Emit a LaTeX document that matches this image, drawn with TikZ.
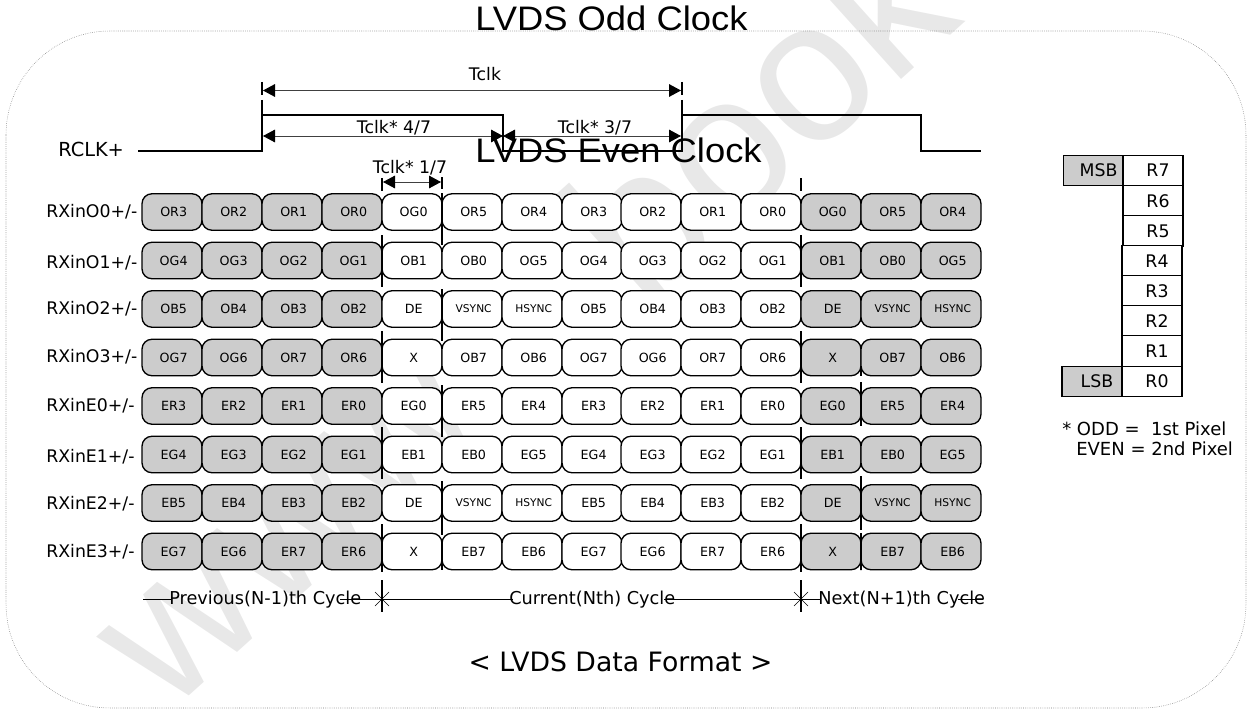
\documentclass[tikz,border=0pt]{standalone}
\usepackage{fontspec}
\setmainfont{DejaVu Sans}
\newfontfamily\titlefont{Liberation Sans}
\usetikzlibrary{arrows.meta,shapes.misc}
\tikzset{
  cellbase/.style={draw,line width=1pt,rounded corners=7.5pt,minimum width=45pt,minimum height=27.4pt,inner sep=0pt,outer sep=0pt,font=\fontsize{9.5}{11}\selectfont,execute at begin node=\hspace{2.5pt}},
  cellwhite/.style={cellbase,fill=white},
  cellgray/.style={cellbase,fill=black!20},
  syncwhite/.style={cellwhite,font=\fontsize{8}{10}\selectfont},
  syncgray/.style={cellgray,font=\fontsize{8}{10}\selectfont},
  rowlabel/.style={anchor=west,inner sep=0pt,font=\fontsize{13}{16}\selectfont},
  timelabel/.style={inner sep=0pt,font=\fontsize{13}{15}\selectfont},
  cyclelabel/.style={anchor=west,inner sep=0pt,font=\fontsize{13.3}{16}\selectfont},
  titlelabel/.style={anchor=base west,inner sep=0pt,font=\titlefont\fontsize{25.5}{30}\selectfont},
  notelabel/.style={anchor=west,inner sep=0pt,font=\fontsize{13.5}{16}\selectfont},
  bitbox/.style={draw,line width=0.8pt,fill=white,minimum width=45pt,minimum height=22.6pt,inner sep=0pt,outer sep=0pt,font=\fontsize{13}{15}\selectfont,execute at begin node=\hspace{7.5pt}},
  sidebox/.style={bitbox,fill=black!20},
  wave/.style={line width=0.8pt},
  span/.style={line width=0.7pt,black!75,{Triangle[length=9pt,width=9.5pt,black]}-{Triangle[length=9pt,width=9.5pt,black]}},
  edgemark/.style={line width=2pt},
  cycleline/.style={line width=0.7pt},
  cross/.style={cross out,draw,line width=0.5pt,minimum size=10pt,inner sep=0pt},
  watermark/.style={black!9,inner sep=0pt,rotate=42,font=\titlefont\fontsize{150}{150}\selectfont}
}
\begin{document}
\begin{tikzpicture}[x=0.75pt,y=0.75pt,yscale=-1,xscale=1]
\useasboundingbox (0,0) rectangle (1247,710);
\clip (0,0) rectangle (1247,710);

% Watermark
\draw (310,516) node (markwww) [watermark] {www.};
\draw (757,113) node (markbook) [watermark] {book};

% Frame
\draw [black!55,line width=0.4pt,densely dotted,rounded corners=78pt] (6,31) rectangle (1246,708);

% Clock edges
\coordinate (wave0) at (138,151);
\coordinate (wave1) at (262,151);
\coordinate (wave2) at (262,115);
\coordinate (wave3) at (503,115);
\coordinate (wave4) at (503,151);
\coordinate (wave5) at (682,151);
\coordinate (wave6) at (682,115);
\coordinate (wave7) at (921,115);
\coordinate (wave8) at (921,151);
\coordinate (wave9) at (981,151);
\draw [wave] (wave0) -- (wave1) -- (wave2) -- (wave3) -- (wave4) -- (wave5) -- (wave6) -- (wave7) -- (wave8) -- (wave9);

% Edge marks
\coordinate (markA0) at (262,82);
\coordinate (markA1) at (262,151);
\coordinate (markB0) at (682,82);
\coordinate (markB1) at (682,135);
\draw [edgemark,dash pattern=on 9.75pt off 3.75pt on 13.5pt off 1.5pt on 23.25pt off 0pt] (markA0) -- (markA1);
\draw [edgemark,dash pattern=on 9.75pt off 3.75pt on 15pt off 1.5pt on 9.75pt off 0pt] (markB0) -- (markB1);

% Spans
\coordinate (spanA0) at (263,90.5);
\coordinate (spanA1) at (681,90.5);
\coordinate (spanB0) at (263,136);
\coordinate (spanB1) at (503,136);
\coordinate (spanC0) at (503,136);
\coordinate (spanC1) at (681,136);
\coordinate (spanD0) at (383,182);
\coordinate (spanD1) at (441,182);
\draw [span] (spanA0) -- (spanA1);
\draw [span] (spanB0) -- (spanB1);
\draw [span] (spanC0) -- (spanC1);
\draw [span] (spanD0) -- (spanD1);

% Cells RXinO0
\draw (172,212) node (o0c1) [cellgray] {OR3};
\draw (232,212) node (o0c2) [cellgray] {OR2};
\draw (292,212) node (o0c3) [cellgray] {OR1};
\draw (352,212) node (o0c4) [cellgray] {OR0};
\draw (412,212) node (o0c5) [cellwhite] {OG0};
\draw (472,212) node (o0c6) [cellwhite] {OR5};
\draw (532,212) node (o0c7) [cellwhite] {OR4};
\draw (592,212) node (o0c8) [cellwhite] {OR3};
\draw (651,212) node (o0c9) [cellwhite] {OR2};
\draw (711,212) node (o0c10) [cellwhite] {OR1};
\draw (771,212) node (o0c11) [cellwhite] {OR0};
\draw (831,212) node (o0c12) [cellgray] {OG0};
\draw (891,212) node (o0c13) [cellgray] {OR5};
\draw (951,212) node (o0c14) [cellgray] {OR4};
% Cells RXinO1
\draw (172,260.5) node (o1c1) [cellgray] {OG4};
\draw (232,260.5) node (o1c2) [cellgray] {OG3};
\draw (292,260.5) node (o1c3) [cellgray] {OG2};
\draw (352,260.5) node (o1c4) [cellgray] {OG1};
\draw (412,260.5) node (o1c5) [cellwhite] {OB1};
\draw (472,260.5) node (o1c6) [cellwhite] {OB0};
\draw (532,260.5) node (o1c7) [cellwhite] {OG5};
\draw (592,260.5) node (o1c8) [cellwhite] {OG4};
\draw (651,260.5) node (o1c9) [cellwhite] {OG3};
\draw (711,260.5) node (o1c10) [cellwhite] {OG2};
\draw (771,260.5) node (o1c11) [cellwhite] {OG1};
\draw (831,260.5) node (o1c12) [cellgray] {OB1};
\draw (891,260.5) node (o1c13) [cellgray] {OB0};
\draw (951,260.5) node (o1c14) [cellgray] {OG5};
% Cells RXinO2
\draw (172,309) node (o2c1) [cellgray] {OB5};
\draw (232,309) node (o2c2) [cellgray] {OB4};
\draw (292,309) node (o2c3) [cellgray] {OB3};
\draw (352,309) node (o2c4) [cellgray] {OB2};
\draw (412,309) node (o2c5) [cellwhite] {DE};
\draw (472,309) node (o2c6) [syncwhite] {VSYNC};
\draw (532,309) node (o2c7) [syncwhite] {HSYNC};
\draw (592,309) node (o2c8) [cellwhite] {OB5};
\draw (651,309) node (o2c9) [cellwhite] {OB4};
\draw (711,309) node (o2c10) [cellwhite] {OB3};
\draw (771,309) node (o2c11) [cellwhite] {OB2};
\draw (831,309) node (o2c12) [cellgray] {DE};
\draw (891,309) node (o2c13) [syncgray] {VSYNC};
\draw (951,309) node (o2c14) [syncgray] {HSYNC};
% Cells RXinO3
\draw (172,357.5) node (o3c1) [cellgray] {OG7};
\draw (232,357.5) node (o3c2) [cellgray] {OG6};
\draw (292,357.5) node (o3c3) [cellgray] {OR7};
\draw (352,357.5) node (o3c4) [cellgray] {OR6};
\draw (412,357.5) node (o3c5) [cellwhite] {X};
\draw (472,357.5) node (o3c6) [cellwhite] {OB7};
\draw (532,357.5) node (o3c7) [cellwhite] {OB6};
\draw (592,357.5) node (o3c8) [cellwhite] {OG7};
\draw (651,357.5) node (o3c9) [cellwhite] {OG6};
\draw (711,357.5) node (o3c10) [cellwhite] {OR7};
\draw (771,357.5) node (o3c11) [cellwhite] {OR6};
\draw (831,357.5) node (o3c12) [cellgray] {X};
\draw (891,357.5) node (o3c13) [cellgray] {OB7};
\draw (951,357.5) node (o3c14) [cellgray] {OB6};
% Cells RXinE0
\draw (172,406) node (e0c1) [cellgray] {ER3};
\draw (232,406) node (e0c2) [cellgray] {ER2};
\draw (292,406) node (e0c3) [cellgray] {ER1};
\draw (352,406) node (e0c4) [cellgray] {ER0};
\draw (412,406) node (e0c5) [cellwhite] {EG0};
\draw (472,406) node (e0c6) [cellwhite] {ER5};
\draw (532,406) node (e0c7) [cellwhite] {ER4};
\draw (592,406) node (e0c8) [cellwhite] {ER3};
\draw (651,406) node (e0c9) [cellwhite] {ER2};
\draw (711,406) node (e0c10) [cellwhite] {ER1};
\draw (771,406) node (e0c11) [cellwhite] {ER0};
\draw (831,406) node (e0c12) [cellgray] {EG0};
\draw (891,406) node (e0c13) [cellgray] {ER5};
\draw (951,406) node (e0c14) [cellgray] {ER4};
% Cells RXinE1
\draw (172,454.5) node (e1c1) [cellgray] {EG4};
\draw (232,454.5) node (e1c2) [cellgray] {EG3};
\draw (292,454.5) node (e1c3) [cellgray] {EG2};
\draw (352,454.5) node (e1c4) [cellgray] {EG1};
\draw (412,454.5) node (e1c5) [cellwhite] {EB1};
\draw (472,454.5) node (e1c6) [cellwhite] {EB0};
\draw (532,454.5) node (e1c7) [cellwhite] {EG5};
\draw (592,454.5) node (e1c8) [cellwhite] {EG4};
\draw (651,454.5) node (e1c9) [cellwhite] {EG3};
\draw (711,454.5) node (e1c10) [cellwhite] {EG2};
\draw (771,454.5) node (e1c11) [cellwhite] {EG1};
\draw (831,454.5) node (e1c12) [cellgray] {EB1};
\draw (891,454.5) node (e1c13) [cellgray] {EB0};
\draw (951,454.5) node (e1c14) [cellgray] {EG5};
% Cells RXinE2
\draw (172,503) node (e2c1) [cellgray] {EB5};
\draw (232,503) node (e2c2) [cellgray] {EB4};
\draw (292,503) node (e2c3) [cellgray] {EB3};
\draw (352,503) node (e2c4) [cellgray] {EB2};
\draw (412,503) node (e2c5) [cellwhite] {DE};
\draw (472,503) node (e2c6) [syncwhite] {VSYNC};
\draw (532,503) node (e2c7) [syncwhite] {HSYNC};
\draw (592,503) node (e2c8) [cellwhite] {EB5};
\draw (651,503) node (e2c9) [cellwhite] {EB4};
\draw (711,503) node (e2c10) [cellwhite] {EB3};
\draw (771,503) node (e2c11) [cellwhite] {EB2};
\draw (831,503) node (e2c12) [cellgray] {DE};
\draw (891,503) node (e2c13) [syncgray] {VSYNC};
\draw (951,503) node (e2c14) [syncgray] {HSYNC};
% Cells RXinE3
\draw (172,551.5) node (e3c1) [cellgray] {EG7};
\draw (232,551.5) node (e3c2) [cellgray] {EG6};
\draw (292,551.5) node (e3c3) [cellgray] {ER7};
\draw (352,551.5) node (e3c4) [cellgray] {ER6};
\draw (412,551.5) node (e3c5) [cellwhite] {X};
\draw (472,551.5) node (e3c6) [cellwhite] {EB7};
\draw (532,551.5) node (e3c7) [cellwhite] {EB6};
\draw (592,551.5) node (e3c8) [cellwhite] {EG7};
\draw (651,551.5) node (e3c9) [cellwhite] {EG6};
\draw (711,551.5) node (e3c10) [cellwhite] {ER7};
\draw (771,551.5) node (e3c11) [cellwhite] {ER6};
\draw (831,551.5) node (e3c12) [cellgray] {X};
\draw (891,551.5) node (e3c13) [cellgray] {EB7};
\draw (951,551.5) node (e3c14) [cellgray] {EB6};

% Cycle boundaries
\coordinate (bndA0) at (382,178);
\coordinate (bndA1) at (382,612);
\coordinate (bndB0) at (442,177);
\coordinate (bndB1) at (442,570);
\coordinate (bndC0) at (801,178);
\coordinate (bndC1) at (801,612);
\coordinate (bndD0) at (861,368);
\coordinate (bndD1) at (861,570);
\draw [edgemark,dash pattern=on 9.75pt off 33pt on 39pt off 33pt on 39pt off 33pt on 39pt off 33.75pt on 36pt off 6pt on 22.5pt off 0pt] (bndA0) -- (bndA1);
\draw [edgemark,dash pattern=on 9pt off 3pt on 39pt off 33pt on 39pt off 33pt on 39pt off 33pt on 40.5pt off 3pt on 26.25pt off 0pt] (bndB0) -- (bndB1);
\draw [edgemark,dash pattern=on 9.75pt off 33pt on 39pt off 33pt on 39pt off 33pt on 39pt off 33.75pt on 36pt off 6pt on 22.5pt off 0pt] (bndC0) -- (bndC1);
\draw [edgemark,dash pattern=on 6pt off 4.5pt on 33pt off 37.5pt on 40.5pt off 2.25pt on 27.75pt off 0pt] (bndD0) -- (bndD1);

% Cycle line
\coordinate (cycA) at (143,599);
\coordinate (cycB) at (172,599);
\coordinate (cycC) at (340,599);
\coordinate (cycD) at (513,599);
\coordinate (cycE) at (664,599);
\coordinate (cycF) at (821,599);
\coordinate (cycG) at (958,599);
\coordinate (cycH) at (983,599);
\draw (382,599) node (crossA) [cross] {};
\draw (801,599) node (crossB) [cross] {};
\draw [cycleline] (cycA) -- (cycB);
\draw [cycleline] (cycC) -- (crossA.center);
\draw [cycleline] (crossA.center) -- (cycD);
\draw [cycleline] (cycE) -- (crossB.center);
\draw [cycleline] (crossB.center) -- (cycF);
\draw [cycleline] (cycG) -- (cycH);

% Row labels
\draw (58,149) node (clklabel) [rowlabel,font=\fontsize{14.5}{16}\selectfont] {RCLK+};
\draw (46,212) node (o0label) [rowlabel] {RXinO0+/-};
\draw (46,263) node (o1label) [rowlabel] {RXinO1+/-};
\draw (46,309) node (o2label) [rowlabel] {RXinO2+/-};
\draw (46,357) node (o3label) [rowlabel] {RXinO3+/-};
\draw (46,406) node (e0label) [rowlabel] {RXinE0+/-};
\draw (46,457) node (e1label) [rowlabel] {RXinE1+/-};
\draw (46,504) node (e2label) [rowlabel] {RXinE2+/-};
\draw (46,552) node (e3label) [rowlabel] {RXinE3+/-};

% Span labels
\draw (485,74) node (spanAlabel) [timelabel] {Tclk};
\draw (394,128) node (spanBlabel) [timelabel] {Tclk* 4/7};
\draw (595,128) node (spanClabel) [timelabel] {Tclk* 3/7};
\draw (410,168) node (spanDlabel) [timelabel] {Tclk* 1/7};

% Cycle labels
\draw (169,600) node (prevlabel) [cyclelabel] {Previous(N-1)th Cycle};
\draw (509,600) node (currlabel) [cyclelabel] {Current(Nth) Cycle};
\draw (818,600) node (nextlabel) [cyclelabel] {Next(N+1)th Cycle};

% Titles
\draw (475,31) node (oddtitle) [titlelabel] {\scalebox{1.07}[1]{LVDS Odd Clock}};
\draw (475,162) node (eventitle) [titlelabel] {\scalebox{1.07}[1]{LVDS Even Clock}};
\draw (620.5,662) node (formatlabel) [inner sep=0pt,font=\fontsize{20}{24}\selectfont] {< LVDS Data Format >};

% Bit order
\draw (1093.5,170.5) node (msb) [sidebox] {MSB};
\draw (1153,170.5) node (bit7) [bitbox] {R7};
\draw (1153,200.8) node (bit6) [bitbox] {R6};
\draw (1153,231) node (bit5) [bitbox] {R5};
\draw (1152,261) node (bit4) [bitbox] {R4};
\draw (1152,291) node (bit3) [bitbox] {R3};
\draw (1152,321) node (bit2) [bitbox] {R2};
\draw (1152,351) node (bit1) [bitbox] {R1};
\draw (1152,381.5) node (bit0) [bitbox] {R0};
\draw (1092,381.5) node (lsb) [sidebox] {LSB};

% Note
\draw (1062,429) node (noteodd) [notelabel] {* ODD = \ 1st Pixel};
\draw (1076,449) node (noteeven) [notelabel] {EVEN = 2nd Pixel};

\end{tikzpicture}
\end{document}
